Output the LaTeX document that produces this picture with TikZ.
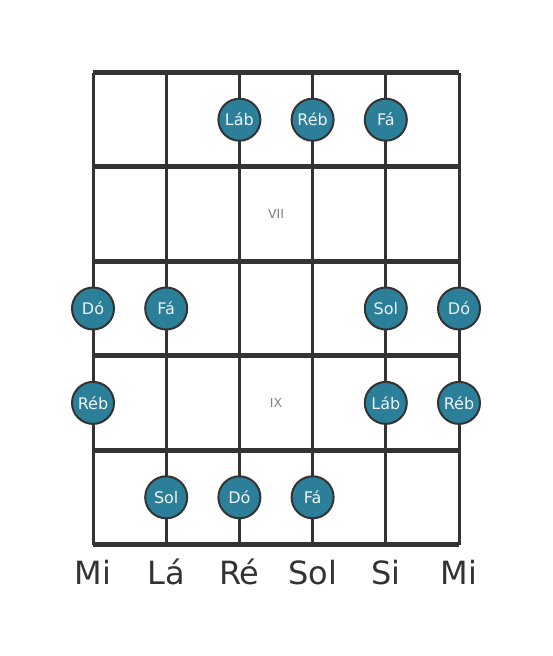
\documentclass[tikz,border=0pt]{standalone}
\usepackage{fontspec}
\setmainfont{DejaVu Sans}
\definecolor{linec}{HTML}{333333}
\definecolor{dotc}{HTML}{2B7F99}
\definecolor{txtc}{HTML}{EEF4F6}
\definecolor{fretlbl}{HTML}{808080}
\begin{document}
\begin{tikzpicture}[x=1pt,y=-1pt,
  stringline/.style={draw=linec,line width=3pt},
  fretline/.style={draw=linec,line width=5pt},
  notedot/.style={circle,draw=linec,line width=2pt,fill=dotc,minimum size=42pt,inner sep=0pt,text=txtc,font=\fontsize{16}{16}\selectfont},
  strlabel/.style={text=linec,font=\fontsize{32}{32}\selectfont,anchor=base},
  fretnum/.style={text=fretlbl,font=\fontsize{12.5}{12.5}\selectfont}]
\useasboundingbox (0,0) rectangle (553,656);
\def\xa{93}\def\xb{166.2}\def\xc{239.4}\def\xd{312.6}\def\xe{385.8}\def\xf{459}
% strings
\foreach \x in {93,166.2,239.4,312.6,385.8,459}
  \draw[stringline] (\x,72.5) -- (\x,544.5);
% frets
\foreach \y in {72.5,166.9,261.3,355.7,450.1,544.5}
  \draw[fretline] (93,\y) -- (459,\y);
% fret numbers
\node[fretnum] (f7) at (276,214.1) {VII};
\node[fretnum] (f9) at (276,402.9) {IX};
% dots
\node[notedot] (d1) at (\xc,119.7) {Láb};
\node[notedot] (d2) at (\xd,119.7) {Réb};
\node[notedot] (d3) at (\xe,119.7) {Fá};
\node[notedot] (d4) at (\xa,308.5) {Dó};
\node[notedot] (d5) at (\xb,308.5) {Fá};
\node[notedot] (d6) at (\xe,308.5) {Sol};
\node[notedot] (d7) at (\xf,308.5) {Dó};
\node[notedot] (d8) at (\xa,402.9) {Réb};
\node[notedot] (d9) at (\xe,402.9) {Láb};
\node[notedot] (d10) at (\xf,402.9) {Réb};
\node[notedot] (d11) at (\xb,497.3) {Sol};
\node[notedot] (d12) at (\xc,497.3) {Dó};
\node[notedot] (d13) at (\xd,497.3) {Fá};
% string names
\node[strlabel] (s1) at (\xa,584) {Mi};
\node[strlabel] (s2) at (\xb,584) {Lá};
\node[strlabel] (s3) at (\xc,584) {Ré};
\node[strlabel] (s4) at (\xd,584) {Sol};
\node[strlabel] (s5) at (\xe,584) {Si};
\node[strlabel] (s6) at (\xf,584) {Mi};
\end{tikzpicture}
\end{document}
